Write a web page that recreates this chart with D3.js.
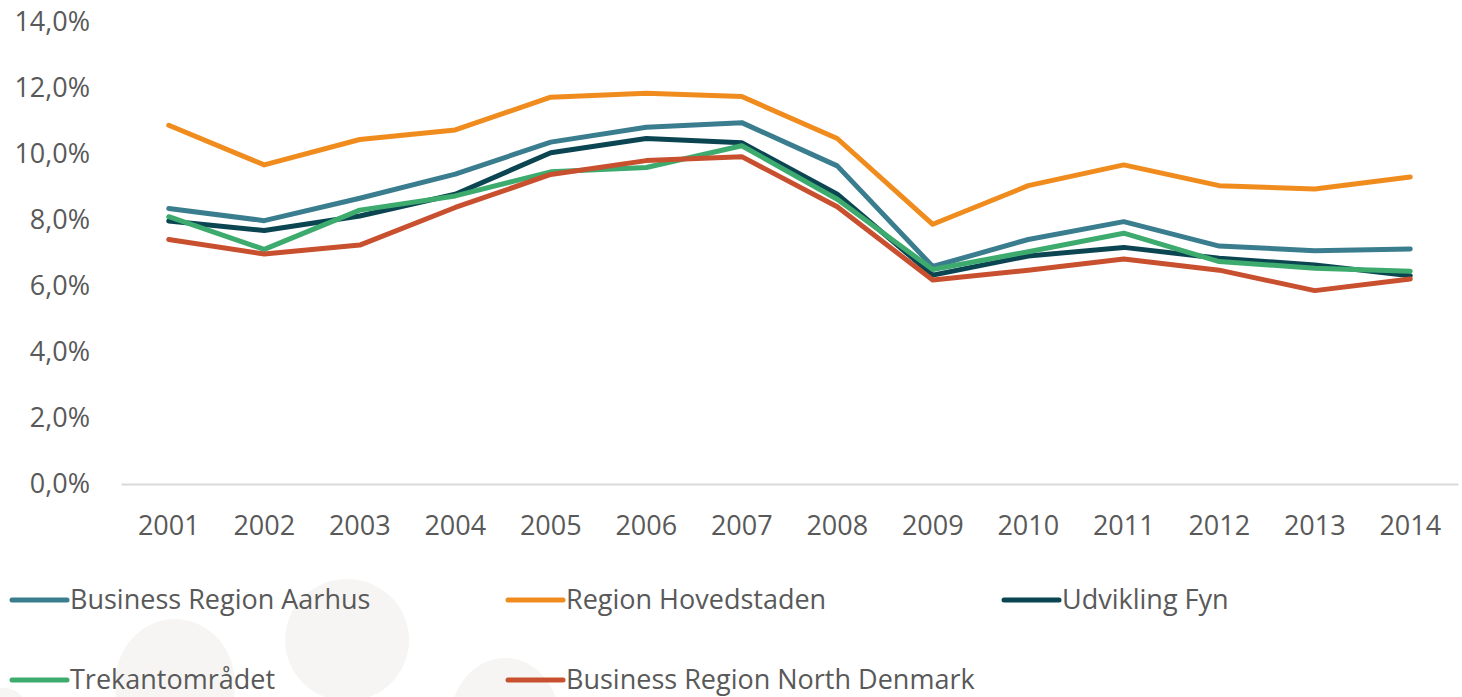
<!DOCTYPE html>
<html>
<head>
<meta charset="utf-8">
<script src="https://cdn.jsdelivr.net/npm/d3@7"></script>
<style>
  body { margin: 0; background: #fff; }
  text { font-family: "Open Sans", sans-serif; fill: #595959; }
</style>
</head>
<body>
<script>
let width = 1462
let height = 697
let margin = {top: 22, right: 4, bottom: 213, left: 121}

let years = ["2001","2002","2003","2004","2005","2006","2007","2008","2009","2010","2011","2012","2013","2014"]
let yTicks = [0, 2, 4, 6, 8, 10, 12, 14]

let aarhus      = [8.35, 7.98, 8.66, 9.39, 10.36, 10.81, 10.95, 9.64, 6.59, 7.41, 7.95, 7.21, 7.07, 7.12]
let hovedstaden = [10.87, 9.67, 10.44, 10.73, 11.72, 11.84, 11.74, 10.47, 7.87, 9.04, 9.67, 9.04, 8.94, 9.30]
let fyn         = [7.97, 7.68, 8.12, 8.78, 10.04, 10.47, 10.34, 8.78, 6.33, 6.91, 7.17, 6.84, 6.64, 6.31]
let trekant     = [8.10, 7.11, 8.30, 8.73, 9.46, 9.59, 10.25, 8.63, 6.50, 7.04, 7.60, 6.74, 6.54, 6.45]
let northDk     = [7.41, 6.97, 7.24, 8.38, 9.38, 9.80, 9.92, 8.40, 6.18, 6.48, 6.82, 6.48, 5.86, 6.21]

let seriesNames = ["Business Region Aarhus", "Region Hovedstaden", "Udvikling Fyn", "Trekantområdet", "Business Region North Denmark"]
let seriesColors = ["#3a7d8e", "#f08c1e", "#0b4552", "#3dab6e", "#c8502f"]

let series = seriesNames.map((name, i) => ({
    name: name,
    color: seriesColors[i],
    values: [aarhus, hovedstaden, fyn, trekant, northDk][i]
}))

let svg = d3.select("body").append("svg")
    .attr("width", width)
    .attr("height", height)

// faint watermark blobs behind the legend
let blobs = [
    {cx: 175, cy: 684, rx: 60, ry: 65},
    {cx: 347, cy: 640, rx: 62, ry: 61},
    {cx: 505, cy: 722, rx: 55, ry: 64},
    {cx: 4, cy: 704, rx: 20, ry: 16}
]
svg.selectAll(".blob").data(blobs).enter()
    .append("ellipse")
    .attr("class", "blob")
    .attr("cx", d => d.cx)
    .attr("cy", d => d.cy)
    .attr("rx", d => d.rx)
    .attr("ry", d => d.ry)
    .attr("fill", "#f6f5f4")

let x = d3.scaleBand()
    .domain(years)
    .range([margin.left, width - margin.right])

let y = d3.scaleLinear()
    .domain([0, 14])
    .range([height - margin.bottom, margin.top])

// y axis labels (no line)
let yAxis = svg.append("g")
    .attr("transform", "translate(90,0)")
    .call(d3.axisLeft(y).tickValues(yTicks).tickSize(0).tickPadding(0)
        .tickFormat(d => d3.format(".1f")(d).replace(".", ",") + "%"))
yAxis.select(".domain").remove()
yAxis.selectAll("text")
    .style("font-size", "27px")
    .attr("fill", "#595959")

// x axis
let xAxis = svg.append("g")
    .attr("transform", "translate(0," + y(0) + ")")
    .call(d3.axisBottom(x).tickSize(0).tickPadding(32))
xAxis.select(".domain").attr("stroke", "#d9d9d9").attr("stroke-width", 2)
xAxis.selectAll("text")
    .style("font-size", "27px")
    .attr("fill", "#595959")

let line = d3.line()
    .x((d, i) => x(years[i]) + x.bandwidth() / 2)
    .y(d => y(d))

svg.selectAll(".series").data(series).enter()
    .append("path")
    .attr("class", "series")
    .attr("d", d => line(d.values))
    .attr("fill", "none")
    .attr("stroke", d => d.color)
    .attr("stroke-width", 5)
    .attr("stroke-linejoin", "round")
    .attr("stroke-linecap", "round")

// legend, three columns
let legendCols = [12, 508, 1004]
let legendRows = [600, 680]
let legend = svg.selectAll(".legend").data(series).enter()
    .append("g")
    .attr("class", "legend")
    .attr("transform", (d, i) => "translate(" + legendCols[i % 3] + "," + legendRows[Math.floor(i / 3)] + ")")

legend.append("line")
    .attr("x1", 0).attr("x2", 55)
    .attr("y1", 0).attr("y2", 0)
    .attr("stroke", d => d.color)
    .attr("stroke-width", 5)
    .attr("stroke-linecap", "round")

legend.append("text")
    .attr("x", 58)
    .attr("y", 0)
    .attr("dy", "0.35em")
    .style("font-size", "27px")
    .text(d => d.name)
</script>
</body>
</html>
